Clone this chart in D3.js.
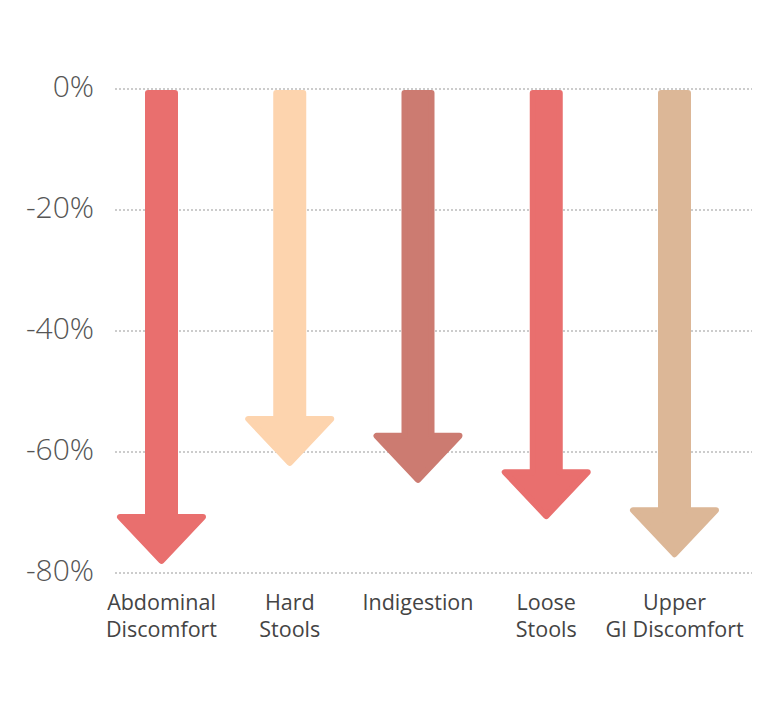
<!DOCTYPE html>
<html>
<head>
<meta charset="utf-8">
<script src="https://cdn.jsdelivr.net/npm/d3@7"></script>
<style>
  body { margin: 0; background: #fff; }
  .tick-label { font-family: "Open Sans", sans-serif; font-weight: 300; font-size: 30px; fill: #555; }
  .cat-label { font-family: "Open Sans", sans-serif; font-size: 21.5px; fill: #444; }
</style>
</head>
<body>
<svg id="chart" width="768" height="716"></svg>
<script>
const categories = ["Abdominal Discomfort", "Hard Stools", "Indigestion", "Loose Stools", "Upper GI Discomfort"];
const labelLines = [["Abdominal", "Discomfort"], ["Hard", "Stools"], ["Indigestion"], ["Loose", "Stools"], ["Upper", "GI Discomfort"]];
const values = [-78.5, -62.3, -65.1, -71.1, -77.4];
const colors = ["#e96f6e", "#fdd4ae", "#cc7b71", "#e96f6e", "#dcb797"];
const tickValues = [0, -20, -40, -60, -80];

const data = categories.map((c, i) => ({ cat: c, value: values[i], color: colors[i], lines: labelLines[i] }));

const svg = d3.select("#chart");
const margin = { top: 89, left: 115, right: 16 };
const width = +svg.attr("width");

const x = d3.scalePoint().domain(categories).range([161.5, 674.5]);
const y = d3.scaleLinear().domain([0, -80]).range([margin.top, 573]);

// dotted grid lines
svg.append("g")
  .selectAll("line")
  .data(tickValues)
  .join("line")
  .attr("x1", margin.left)
  .attr("x2", width - margin.right)
  .attr("y1", d => y(d))
  .attr("y2", d => y(d))
  .attr("stroke", "#cccccc")
  .attr("stroke-width", 2)
  .attr("stroke-dasharray", "2,2");

// y tick labels
svg.append("g")
  .selectAll("text")
  .data(tickValues)
  .join("text")
  .attr("class", "tick-label")
  .attr("x", 94)
  .attr("y", d => y(d) + 8)
  .attr("text-anchor", "end")
  .text(d => d + "%");

// arrows: polygon inset by half the stroke, round joins give the soft corners
const shaftW = 33, headW = 91, headH = 50, r = 3;

function arrowPath(d) {
  const cx = x(d.cat);
  const top = y(0) + 1 + r;
  const tip = y(d.value) - r;
  const headTop = y(d.value) - headH + r;
  const sw = shaftW / 2 - r, hw = headW / 2 - r - 1;
  return `M${cx - sw},${top} L${cx + sw},${top} L${cx + sw},${headTop} L${cx + hw},${headTop}
    L${cx},${tip} L${cx - hw},${headTop} L${cx - sw},${headTop} Z`;
}

svg.append("g")
  .selectAll("path")
  .data(data)
  .join("path")
  .attr("d", arrowPath)
  .attr("fill", d => d.color)
  .attr("stroke", d => d.color)
  .attr("stroke-width", r * 2)
  .attr("stroke-linejoin", "round");

// category labels
const labels = svg.append("g")
  .selectAll("text")
  .data(data)
  .join("text")
  .attr("class", "cat-label")
  .attr("text-anchor", "middle")
  .attr("x", d => x(d.cat))
  .attr("y", 610);

labels.selectAll("tspan")
  .data(d => d.lines.map(l => ({ l, cx: x(d.cat) })))
  .join("tspan")
  .attr("x", d => d.cx)
  .attr("dy", (d, i) => i === 0 ? 0 : 27)
  .text(d => d.l);
</script>
</body>
</html>
